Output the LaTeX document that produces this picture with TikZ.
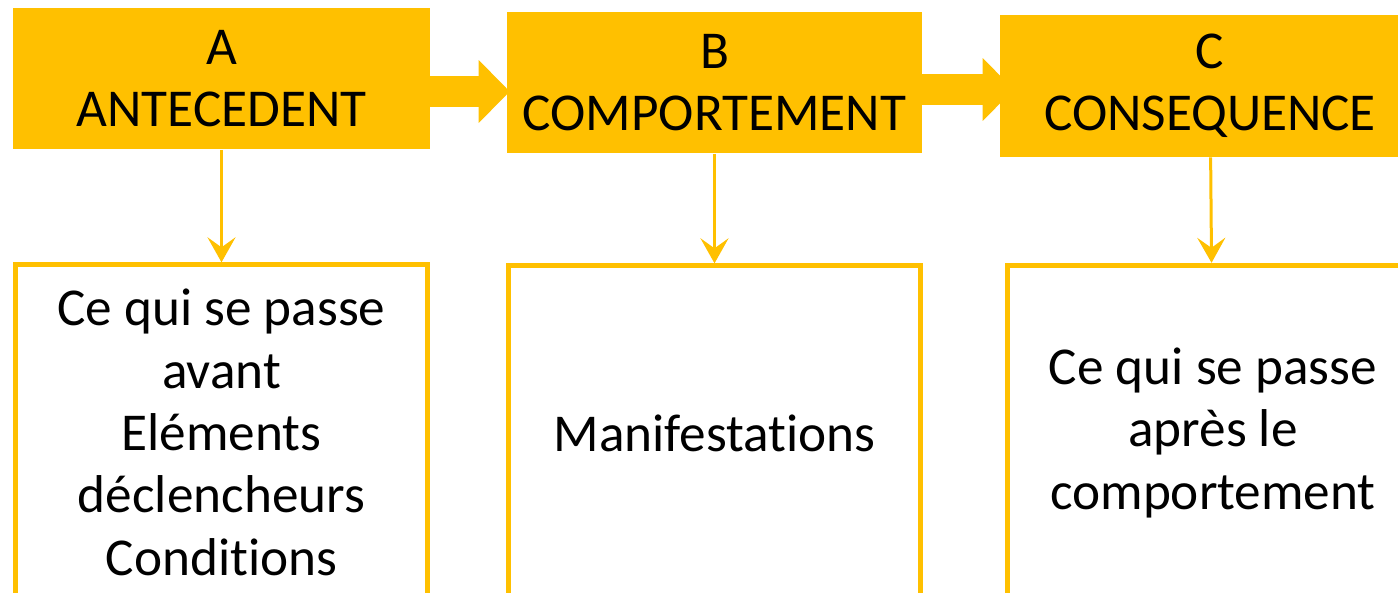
\documentclass[tikz,border=0pt]{standalone}
\usepackage{fontspec}
\setmainfont{Carlito}[Ligatures=NoCommon]
\usetikzlibrary{positioning, arrows.meta, backgrounds}
\definecolor{gold}{HTML}{FFC000}

\tikzset{
  stage/.style={fill=gold, align=center, inner sep=0pt, minimum width=8.34cm, minimum height=2.84cm, font=\fontsize{30.3}{35.5}\selectfont},
  detailbox/.style={draw=gold, line width=0.1cm, align=center, inner sep=0pt, minimum width=8.24cm, minimum height=6.7cm, font=\fontsize{30.3}{35.5}\selectfont},
  bigarrow/.style={draw=gold, line width=0.62cm, -{Triangle[length=0.62cm, width=1.26cm, line width=0pt]}},
  smallarrow/.style={draw=gold, line width=0.06cm, -{Stealth[length=0.5cm, width=0.56cm, inset=0.2cm]}}
}

\begin{document}
\begin{tikzpicture}[x=0.02cm, y=-0.02cm]
\useasboundingbox (0,0) rectangle (1398,592);
\clip (0,0) rectangle (1398,592);

% top row: the three stages
\node[stage] (ant) at (221.5,78.5) {A\\ANTECEDENT};
\node[stage, minimum width=8.3cm] (comp) at (714.5,82.5) {B\\COMPORTEMENT};
\node[stage, minimum width=8.4cm] (cons) at (1210,86) {C\\CONSEQUENCE};

% bottom row: what each stage covers
\node[detailbox, below=2.25cm of ant] (antdet) {Ce qui se passe\\avant\\Eléments\\déclencheurs\\Conditions};
\node[detailbox, below=2.19cm of comp] (compdet) {Manifestations};
\node[detailbox, below=2.11cm of cons, xshift=0.06cm] (consdet) {Ce qui se passe\\après le\\comportement};

% block arrows between stages, tips tucked under the next box
\coordinate[yshift=-0.26cm] (abstart) at (ant.east);
\coordinate[xshift=0.06cm] (abend) at (abstart -| comp.west);
\coordinate[yshift=-0.14cm] (bcstart) at (comp.east);
\coordinate[xshift=0.28cm] (bcend) at (bcstart -| cons.west);
\begin{scope}[on background layer]
  \draw[bigarrow] (abstart) -- (abend);
  \draw[bigarrow] (bcstart) -- (bcend);
\end{scope}

\draw[smallarrow] (ant) -- (antdet);
\draw[smallarrow] (comp) -- (compdet);
\draw[smallarrow] (cons) -- (consdet);
\end{tikzpicture}
\end{document}
